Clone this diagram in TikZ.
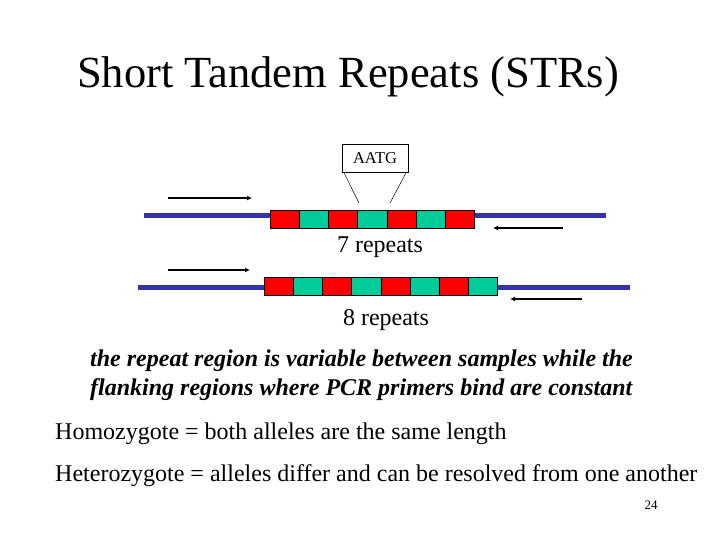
\documentclass[tikz,border=0pt]{standalone}
\usepackage{fontspec}
\setmainfont{Liberation Serif}
\definecolor{dnablue}{RGB}{51,51,170}
\definecolor{rred}{RGB}{255,0,0}
\definecolor{rgreen}{RGB}{0,204,153}
\begin{document}
\begin{tikzpicture}[x=1pt,y=-1pt,
  strand/.style={dnablue,line width=5pt},
  primer/.style={black,line width=2.5pt,-{Latex[length=5pt,width=5pt]}},
  rep/.style={draw=black,line width=0.6pt,minimum width=29.2pt,minimum height=18pt,inner sep=0pt},
  txt/.style={inner sep=0pt,anchor=west}]
\usetikzlibrary{arrows.meta}
\useasboundingbox (0,0) rectangle (720,540);
\node[inner sep=0pt] (title) at (348,77) {\fontsize{44.5}{52}\selectfont Short Tandem Repeats (STRs)};
\node[draw,line width=0.6pt,minimum width=66pt,minimum height=28pt,inner sep=0pt] (aatg) at (375,158) {\fontsize{16.5}{18}\selectfont AATG};
\coordinate (s1a) at (144,216); \coordinate (s1b) at (606,216);
\draw[strand] (s1a) -- (s1b);
\foreach \i in {0,...,6}{
  \ifodd\i \node[rep,fill=rgreen] (a\i) at (284.6+29.2*\i,219) {};
  \else \node[rep,fill=rred] (a\i) at (284.6+29.2*\i,219) {}; \fi}
\coordinate (p1) at (359,203); \coordinate (p2) at (390,203);
\draw[line width=0.5pt] (aatg.south west) ++(2,0) -- (p1);
\draw[line width=0.5pt] (aatg.south east) ++(-2,0) -- (p2);
\coordinate (f1a) at (168,198); \coordinate (f1b) at (252,198);
\draw[primer] (f1a) -- (f1b);
\coordinate (r1a) at (563,228); \coordinate (r1b) at (493,228);
\draw[primer] (r1a) -- (r1b);
\node[inner sep=0pt] (l7) at (380,247) {\fontsize{24}{28}\selectfont 7 repeats};
\coordinate (s2a) at (138,287); \coordinate (s2b) at (630,287);
\draw[strand] (s2a) -- (s2b);
\foreach \i in {0,...,7}{
  \ifodd\i \node[rep,fill=rgreen] (b\i) at (278.6+29.2*\i,286) {};
  \else \node[rep,fill=rred] (b\i) at (278.6+29.2*\i,286) {}; \fi}
\coordinate (f2a) at (168,270); \coordinate (f2b) at (250,270);
\draw[primer] (f2a) -- (f2b);
\coordinate (r2a) at (582,299); \coordinate (r2b) at (510,299);
\draw[primer] (r2a) -- (r2b);
\node[inner sep=0pt] (l8) at (386,320) {\fontsize{24}{28}\selectfont 8 repeats};
\node[txt] (i1) at (90,361) {\fontsize{24}{28}\selectfont\bfseries\itshape the repeat region is variable between samples while the};
\node[txt] (i2) at (90,390) {\fontsize{24}{28}\selectfont\bfseries\itshape flanking regions where PCR primers bind are constant};
\node[txt] (h1) at (55,434) {\fontsize{24}{28}\selectfont Homozygote = both alleles are the same length};
\node[txt] (h2) at (55,476) {\fontsize{24}{28}\selectfont Heterozygote = alleles differ and can be resolved from one another};
\node[inner sep=0pt] (pg) at (651,505) {\fontsize{13}{15}\selectfont 24};
\end{tikzpicture}
\end{document}
